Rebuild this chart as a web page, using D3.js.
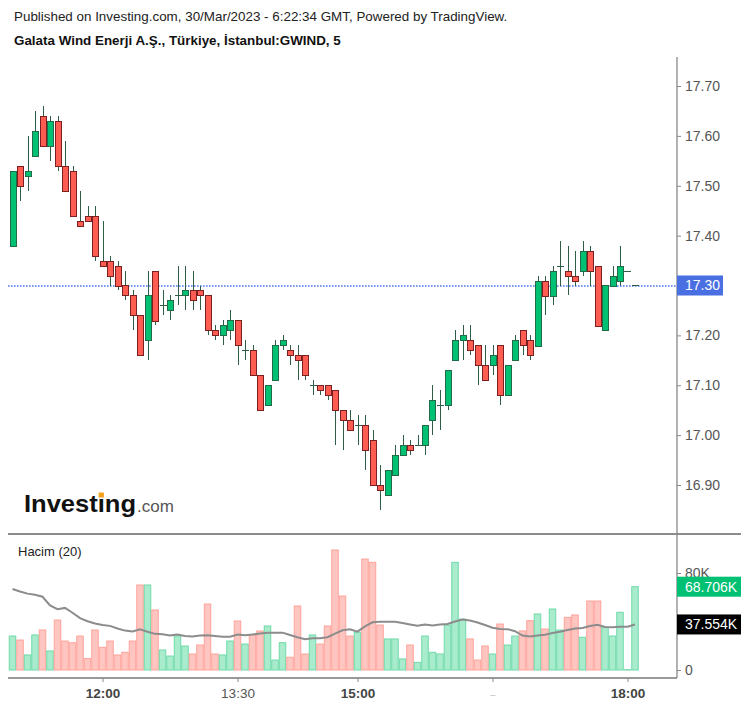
<!DOCTYPE html>
<html>
<head>
<meta charset="utf-8">
<script src="https://cdnjs.cloudflare.com/ajax/libs/d3/7.8.5/d3.min.js"></script>
<style>
body { margin: 0; background: #fff; }
svg { font-family: "Liberation Sans", Arial, sans-serif; }
</style>
</head>
<body>
<script>
// 5 minute bars, 11:00 -> 18:05
var opens = [17.38, 17.54, 17.52, 17.56, 17.64, 17.58, 17.63, 17.54, 17.53, 17.43,
    17.44, 17.44, 17.35, 17.35, 17.34, 17.30, 17.28, 17.24, 17.19, 17.33,
    17.26, 17.25, 17.28, 17.28, 17.29, 17.29, 17.28, 17.21, 17.20, 17.21,
    17.23, 17.17, 17.17, 17.12, 17.06, 17.11, 17.18, 17.17, 17.16, 17.16,
    17.10, 17.10, 17.10, 17.09, 17.05, 17.03, 17.02, 17.02, 16.99, 16.90,
    16.88, 16.92, 16.96, 16.98, 16.98, 16.98, 17.03, 17.06, 17.06, 17.15,
    17.19, 17.19, 17.18, 17.14, 17.14, 17.18, 17.08, 17.15, 17.21, 17.19,
    17.18, 17.31, 17.28, 17.34, 17.33, 17.32, 17.33, 17.37, 17.34, 17.21,
    17.30, 17.31, 17.33, 17.30];
var highs = [17.53, 17.54, 17.60, 17.65, 17.66, 17.64, 17.64, 17.59, 17.54, 17.49,
    17.46, 17.46, 17.43, 17.36, 17.35, 17.33, 17.29, 17.24, 17.33, 17.33,
    17.29, 17.28, 17.34, 17.34, 17.33, 17.30, 17.28, 17.22, 17.23, 17.25,
    17.23, 17.19, 17.18, 17.12, 17.10, 17.19, 17.20, 17.18, 17.18, 17.16,
    17.11, 17.10, 17.10, 17.09, 17.05, 17.05, 17.04, 17.04, 17.01, 16.94,
    16.93, 16.98, 17.00, 16.99, 17.00, 17.02, 17.10, 17.09, 17.13, 17.21,
    17.22, 17.22, 17.18, 17.18, 17.18, 17.18, 17.14, 17.20, 17.21, 17.20,
    17.32, 17.32, 17.34, 17.39, 17.38, 17.37, 17.39, 17.38, 17.34, 17.30,
    17.34, 17.38, 17.33, 17.30];
var lows = [17.38, 17.47, 17.49, 17.56, 17.58, 17.55, 17.53, 17.49, 17.44, 17.42,
    17.43, 17.35, 17.34, 17.30, 17.29, 17.27, 17.21, 17.16, 17.15, 17.22,
    17.24, 17.23, 17.26, 17.25, 17.25, 17.25, 17.20, 17.19, 17.18, 17.19,
    17.14, 17.15, 17.12, 17.05, 17.06, 17.11, 17.17, 17.14, 17.11, 17.11,
    17.08, 17.08, 17.07, 16.98, 16.97, 17.01, 16.98, 16.93, 16.90, 16.85,
    16.88, 16.92, 16.96, 16.96, 16.98, 16.96, 17.00, 17.01, 17.05, 17.15,
    17.15, 17.16, 17.10, 17.11, 17.12, 17.06, 17.08, 17.15, 17.16, 17.15,
    17.18, 17.24, 17.26, 17.30, 17.28, 17.30, 17.32, 17.30, 17.22, 17.21,
    17.30, 17.30, 17.33, 17.30];
var closes = [17.53, 17.50, 17.53, 17.61, 17.58, 17.63, 17.54, 17.49, 17.44, 17.42,
    17.43, 17.36, 17.34, 17.32, 17.30, 17.28, 17.24, 17.16, 17.28, 17.23,
    17.26, 17.27, 17.28, 17.29, 17.27, 17.28, 17.21, 17.20, 17.22, 17.23,
    17.18, 17.17, 17.12, 17.05, 17.10, 17.18, 17.19, 17.16, 17.15, 17.12,
    17.10, 17.09, 17.08, 17.05, 17.03, 17.01, 17.02, 16.97, 16.90, 16.89,
    16.93, 16.96, 16.98, 16.97, 16.98, 17.02, 17.07, 17.06, 17.13, 17.19,
    17.20, 17.17, 17.14, 17.11, 17.16, 17.08, 17.14, 17.19, 17.18, 17.16,
    17.31, 17.28, 17.33, 17.34, 17.32, 17.31, 17.37, 17.33, 17.22, 17.30,
    17.32, 17.34, 17.33, 17.30];
// volume in thousands
var volumes = [28.0, 24.7, 12.4, 28.9, 33.0, 15.7, 41.2, 23.9, 22.5, 28.0,
    9.4, 33.0, 18.7, 23.9, 12.4, 14.6, 23.9, 70.1, 70.1, 49.5,
    16.5, 11.5, 28.0, 19.8, 13.2, 20.6, 54.4, 13.2, 12.4, 23.9,
    40.4, 21.4, 28.9, 32.2, 36.3, 8.2, 22.5, 10.5, 52.8, 13.2,
    28.9, 21.4, 36.3, 99.0, 61.0, 28.0, 31.1, 91.5, 88.8, 37.1,
    25.6, 25.6, 9.1, 20.6, 6.3, 28.0, 14.6, 13.2, 37.1, 88.8,
    42.0, 25.6, 8.2, 19.8, 13.2, 37.9, 20.6, 28.0, 32.2, 40.7,
    46.2, 33.8, 50.3, 33.0, 43.4, 45.4, 27.0, 56.9, 56.9, 35.2,
    28.0, 47.6, 0.3, 68.706];
// volume MA(20)
var volumeMA = [66.8, 64.7, 63.0, 62.0, 60.4, 53.3, 50.2, 51.2, 47.2, 42.8,
    40.2, 38.3, 37.2, 36.4, 34.2, 32.5, 31.7, 33.6, 31.5, 29.8,
    29.4, 28.4, 29.3, 28.1, 27.6, 28.5, 28.6, 28.1, 27.5, 27.5,
    29.3, 28.7, 29.2, 30.1, 30.8, 30.8, 30.8, 28.9, 27.0, 25.4,
    26.1, 26.1, 27.0, 30.0, 32.8, 33.5, 31.6, 35.9, 39.3, 39.8,
    39.8, 39.7, 38.7, 37.6, 36.6, 37.6, 36.8, 37.6, 38.0, 40.0,
    41.6, 40.8, 39.2, 37.1, 34.9, 33.8, 33.7, 32.0, 28.4, 27.6,
    28.4, 29.0, 30.5, 31.5, 33.0, 34.3, 34.6, 36.3, 37.3, 35.5,
    35.2, 35.7, 35.7, 37.554];

var priceTicks = [16.9, 17.0, 17.1, 17.2, 17.3, 17.4, 17.5, 17.6, 17.7];
var volumeTicks = [0, 80];
var timeTickIndex = [12, 30, 46, 64, 82];
var timeTickLabels = ["12:00", "13:30", "15:00", "", "18:00"];
var lastPrice = 17.30;

var width = 747, height = 707;

var svg = d3.select("body").append("svg")
    .attr("width", width)
    .attr("height", height);

var x = d3.scaleLinear().domain([0, closes.length - 1]).range([12.5, 635]);
var y = d3.scaleLinear().domain([16.9, 17.7]).range([485, 86]);
var yVol = d3.scaleLinear().domain([0, 80]).range([670, 573]);

var upFill = "#00c073", upLine = "#236b47";
var downFill = "#ff5d52", downLine = "#7a2020";
var wickColor = "#2e5e45";

// header
svg.append("text").attr("x", 14).attr("y", 21)
    .attr("font-size", 13.4).attr("fill", "#222")
    .text("Published on Investing.com, 30/Mar/2023 - 6:22:34 GMT, Powered by TradingView.");
svg.append("text").attr("x", 14).attr("y", 45)
    .attr("font-size", 13.4).attr("font-weight", "bold").attr("fill", "#111")
    .text("Galata Wind Enerji A.Ş., Türkiye, İstanbul:GWIND, 5");

// logo
var logo = svg.append("text").attr("x", 24).attr("y", 512)
    .attr("font-size", 24).attr("font-weight", "bold").attr("fill", "#111")
    .attr("textLength", 112).attr("lengthAdjust", "spacingAndGlyphs")
    .text("Investing");
svg.append("text").attr("x", 137).attr("y", 512)
    .attr("font-size", 17).attr("fill", "#555")
    .text(".com");
var iBox = logo.node().getExtentOfChar(6);
svg.append("rect")
    .attr("x", iBox.x + iBox.width / 2 - 2.6).attr("y", 492.5)
    .attr("width", 5.2).attr("height", 5)
    .attr("fill", "#f5a01a");

// frame lines
svg.append("line").attr("x1", 8).attr("x2", 741).attr("y1", 534).attr("y2", 534)
    .attr("stroke", "#666").attr("stroke-width", 1.3);
svg.append("line").attr("x1", 8).attr("x2", 677).attr("y1", 678).attr("y2", 678)
    .attr("stroke", "#777").attr("stroke-width", 1.3);
svg.append("line").attr("x1", 677).attr("x2", 677).attr("y1", 57).attr("y2", 678)
    .attr("stroke", "#888").attr("stroke-width", 1.3);

// price axis
var priceAxis = svg.append("g").attr("transform", "translate(677,0)")
    .call(d3.axisRight(y).tickValues(priceTicks).tickFormat(d3.format(".2f")).tickSize(4).tickPadding(4));
priceAxis.select(".domain").remove();
priceAxis.attr("font-size", 14).attr("font-family", null);
priceAxis.selectAll("text").attr("fill", "#555");
priceAxis.selectAll("line").attr("stroke", "#888");

// last price line + label
var yLast = y(lastPrice) + 0.5;
svg.append("path")
    .attr("d", "M8," + yLast + "H677")
    .attr("fill", "none")
    .attr("stroke", "#4f78f2").attr("stroke-width", 1.6).attr("stroke-dasharray", "1.6,1.4");
svg.append("rect").attr("x", 677).attr("y", y(lastPrice) - 10).attr("width", 46).attr("height", 20)
    .attr("fill", "#4a6fe3");
svg.append("text").attr("x", 685).attr("y", y(lastPrice)).attr("dy", "0.35em")
    .attr("font-size", 14).attr("fill", "#fff").text(d3.format(".2f")(lastPrice));

// candles
var candle = svg.append("g").attr("shape-rendering", "crispEdges")
    .selectAll("g").data(closes).enter().append("g");

candle.append("line")
    .attr("x1", function (d, i) { return Math.round(x(i)) + 0.5; })
    .attr("x2", function (d, i) { return Math.round(x(i)) + 0.5; })
    .attr("y1", function (d, i) { return y(highs[i]); })
    .attr("y2", function (d, i) { return y(lows[i]); })
    .attr("stroke", wickColor)
    .attr("stroke-width", 1);

candle.each(function (d, i) {
    var g = d3.select(this);
    var cx = Math.round(x(i));
    if (opens[i] === closes[i]) {
        // doji
        g.append("line")
            .attr("x1", cx - 3).attr("x2", cx + 4)
            .attr("y1", Math.round(y(closes[i])) + 0.5).attr("y2", Math.round(y(closes[i])) + 0.5)
            .attr("stroke", wickColor).attr("stroke-width", 1.5);
    } else {
        var up = closes[i] > opens[i];
        var top = y(Math.max(opens[i], closes[i]));
        var bot = y(Math.min(opens[i], closes[i]));
        g.append("rect")
            .attr("x", cx - 2.5)
            .attr("y", Math.round(top) + 0.5)
            .attr("width", 6)
            .attr("height", Math.max(1, Math.round(bot - top)))
            .attr("fill", up ? upFill : downFill)
            .attr("stroke", up ? upLine : downLine)
            .attr("stroke-width", 1);
    }
});

// volume bars
svg.append("g").selectAll("rect")
    .data(volumes).enter().append("rect")
    .attr("x", function (d, i) { return x(i) - 3.25; })
    .attr("y", function (d) { return yVol(d); })
    .attr("width", 6.5)
    .attr("height", function (d) { return yVol(0) - yVol(d); })
    .attr("fill", function (d, i) { return closes[i] >= opens[i] ? "#a8ebcd" : "#ffc6c1"; })
    .attr("stroke", function (d, i) { return closes[i] >= opens[i] ? "#6fdaa9" : "#ffa29a"; })
    .attr("stroke-width", 1);

// volume MA
svg.append("path")
    .datum(volumeMA)
    .attr("d", d3.line().x(function (d, i) { return x(i); }).y(function (d) { return yVol(d); }))
    .attr("fill", "none")
    .attr("stroke", "#8c8c8c")
    .attr("stroke-width", 2);

svg.append("text").attr("x", 18).attr("y", 556)
    .attr("font-size", 13).attr("fill", "#222").text("Hacim (20)");

// volume axis
var volAxis = svg.append("g").attr("transform", "translate(677,0)")
    .call(d3.axisRight(yVol).tickValues(volumeTicks)
        .tickFormat(function (d) { return d ? d + "K" : "0"; }).tickSize(4).tickPadding(4));
volAxis.select(".domain").remove();
volAxis.attr("font-size", 14).attr("font-family", null);
volAxis.selectAll("text").attr("fill", "#555");
volAxis.selectAll("line").attr("stroke", "#888");

// volume labels
var lastVol = volumes[volumes.length - 1];
var lastMA = volumeMA[volumeMA.length - 1];
svg.append("rect").attr("x", 677).attr("y", yVol(lastVol) - 10).attr("width", 64).attr("height", 20)
    .attr("fill", "#00c073");
svg.append("text").attr("x", 685).attr("y", yVol(lastVol)).attr("dy", "0.35em")
    .attr("font-size", 14).attr("fill", "#fff").text(d3.format(".3f")(lastVol) + "K");
svg.append("rect").attr("x", 677).attr("y", yVol(lastMA) - 10).attr("width", 64).attr("height", 20)
    .attr("fill", "#000");
svg.append("text").attr("x", 685).attr("y", yVol(lastMA)).attr("dy", "0.35em")
    .attr("font-size", 14).attr("fill", "#fff").text(d3.format(".3f")(lastMA) + "K");

// time axis
var timeAxis = svg.append("g").attr("transform", "translate(0,678)")
    .call(d3.axisBottom(x).tickValues(timeTickIndex)
        .tickFormat(function (d, i) { return timeTickLabels[i]; }).tickSize(4).tickPadding(6));
timeAxis.select(".domain").remove();
timeAxis.attr("font-size", 13.5).attr("font-family", null);
timeAxis.selectAll("line").attr("stroke", "#888");
timeAxis.selectAll("text")
    .attr("fill", function (d, i) { return /:00$/.test(timeTickLabels[i]) ? "#444" : "#555"; })
    .attr("font-weight", function (d, i) { return /:00$/.test(timeTickLabels[i]) ? "bold" : "normal"; });
// hidden label leaves a faint mark
timeTickLabels.forEach(function (t, i) {
    if (t === "") {
        svg.append("line").attr("x1", x(timeTickIndex[i]) - 2).attr("x2", x(timeTickIndex[i]) + 3)
            .attr("y1", 695.5).attr("y2", 695.5).attr("stroke", "#ccc");
    }
});
</script>
</body>
</html>
